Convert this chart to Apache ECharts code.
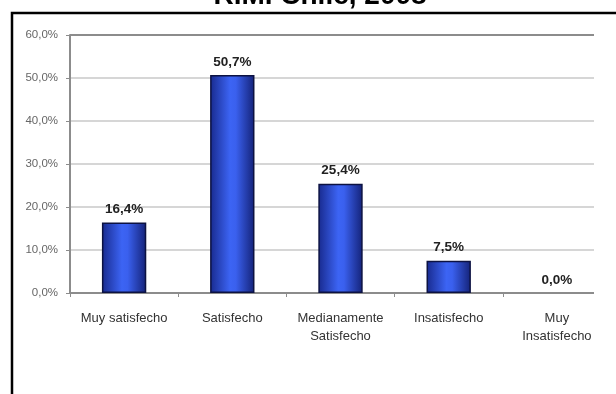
<!DOCTYPE html>
<html>
<head>
<meta charset="utf-8">
<script src="https://cdn.jsdelivr.net/npm/echarts@6/dist/echarts.min.js"></script>
<style>
  html, body { margin: 0; padding: 0; background: #ffffff; }
  #chart { width: 616px; height: 394px; }
</style>
</head>
<body>
<div id="chart"></div>
<script>
// Satisfaction survey, Región Metropolitana 2008
const titleText = 'R.M. Chile, 2008';
const categories = ['Muy satisfecho', 'Satisfecho', 'Medianamente\nSatisfecho', 'Insatisfecho', 'Muy\nInsatisfecho'];
const percentages = [16.4, 50.7, 25.4, 7.5, 0.0];
const axisMax = 60;
const axisStep = 10;

const sans = '"Liberation Sans Narrow", "Arial Narrow", "Liberation Sans", Arial, sans-serif';
const fmtPct = v => v.toFixed(1).replace('.', ',') + '%';

const chart = echarts.init(document.getElementById('chart'), null, { renderer: 'canvas' });

// cylinder-like horizontal shading on each bar
const barFill = new echarts.graphic.LinearGradient(0, 0, 1, 0, [
  { offset: 0, color: '#182a8e' },
  { offset: 0.45, color: '#3c64f4' },
  { offset: 0.58, color: '#3a60ee' },
  { offset: 1, color: '#142278' }
]);

const gridColors = ['#d6d6d6', '#d6d6d6', '#d6d6d6', '#d6d6d6', '#d6d6d6', '#d6d6d6', '#8c8c8c'];

// an empty category gets no outline
const barData = percentages.map(v => v === 0 ? { value: v, itemStyle: { borderWidth: 0 } } : v);

chart.setOption({
  animation: false,
  backgroundColor: '#ffffff',
  grid: { left: 70, right: 5, top: 35, bottom: 101, containLabel: false },
  xAxis: {
    type: 'category',
    data: categories,
    axisLine: { show: true, lineStyle: { color: '#8c8c8c', width: 2 } },
    axisTick: { show: true, inside: false, length: 4, lineStyle: { color: '#8c8c8c', width: 1 } },
    axisLabel: {
      interval: 0,
      margin: 16,
      color: '#333333',
      fontFamily: sans,
      fontSize: 13,
      lineHeight: 18
    },
    splitLine: { show: false }
  },
  yAxis: {
    type: 'value',
    min: 0,
    max: axisMax,
    interval: axisStep,
    axisLine: { show: true, lineStyle: { color: '#8c8c8c', width: 2 } },
    axisTick: { show: true, inside: false, length: 4, lineStyle: { color: '#8c8c8c', width: 1 } },
    axisLabel: {
      margin: 12,
      color: '#666666',
      fontFamily: sans,
      fontSize: 11.5,
      formatter: v => fmtPct(v)
    },
    splitLine: { show: true, lineStyle: { color: gridColors, width: 2 } }
  },
  series: [{
    type: 'bar',
    data: barData,
    barWidth: '41%',
    itemStyle: { color: barFill, borderColor: '#0c1242', borderWidth: 1.5 },
    label: {
      show: true,
      position: 'top',
      distance: 6,
      color: '#222222',
      fontFamily: sans,
      fontWeight: 'bold',
      fontSize: 13.5,
      formatter: p => fmtPct(p.value)
    }
  }],
  graphic: [
    // plot cropped on the right and below the labels
    { type: 'rect', z: 100, shape: { x: 594, y: 20, width: 30, height: 380 }, style: { fill: '#ffffff' } },
    { type: 'rect', z: 100, shape: { x: 14, y: 341, width: 610, height: 60 }, style: { fill: '#ffffff' } },
    // frame around the chart
    { type: 'polyline', z: 101, shape: { points: [[12, 400], [12, 13], [620, 13]] }, style: { stroke: '#000000', lineWidth: 2.5, fill: null } },
    {
      type: 'text', z: 101, x: 320, y: -4,
      style: {
        text: titleText,
        fill: '#000000',
        font: 'bold 28px "Liberation Sans", Arial, sans-serif',
        align: 'center',
        verticalAlign: 'middle'
      }
    }
  ]
});
</script>
</body>
</html>
